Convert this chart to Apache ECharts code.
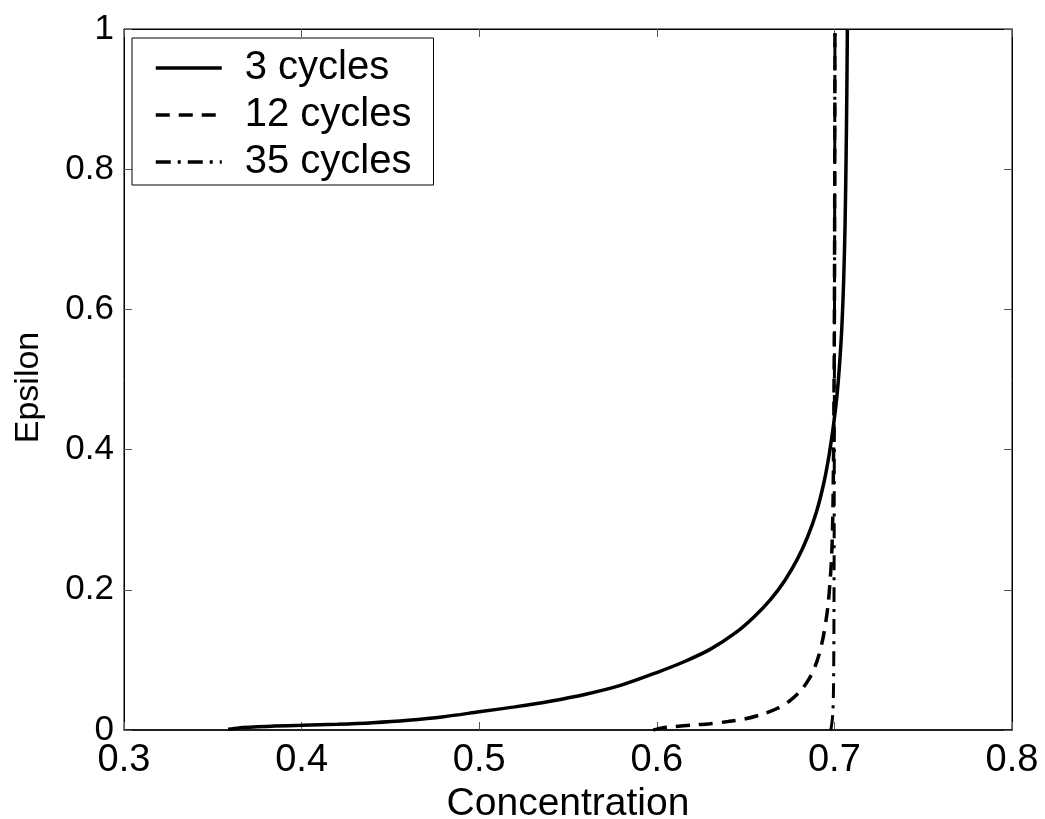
<!DOCTYPE html>
<html>
<head>
<meta charset="utf-8">
<script src="https://cdn.jsdelivr.net/npm/echarts@6/dist/echarts.min.js"></script>
<style>
html,body{margin:0;padding:0;background:#fff;}
#chart{width:1045px;height:819px;}
</style>
</head>
<body>
<div id="chart"></div>
<script>
// ---- data ----
const seriesNames = ['3 cycles', '12 cycles', '35 cycles'];
const xTicks = [0.3, 0.4, 0.5, 0.6, 0.7, 0.8];
const yTicks = [0, 0.2, 0.4, 0.6, 0.8, 1];

const c3x = [0.3586, 0.362, 0.367, 0.375, 0.385, 0.40, 0.42, 0.44, 0.46, 0.48, 0.50, 0.52, 0.54, 0.56, 0.58, 0.60, 0.615, 0.63, 0.645, 0.655, 0.664, 0.672, 0.679, 0.685, 0.690, 0.694, 0.697, 0.6995, 0.7015, 0.703, 0.7042, 0.7052, 0.706, 0.7066, 0.707, 0.7073];
const c3y = [0.001, 0.002, 0.0035, 0.0048, 0.0056, 0.0066, 0.0082, 0.0105, 0.014, 0.019, 0.026, 0.033, 0.041, 0.051, 0.064, 0.082, 0.097, 0.115, 0.140, 0.162, 0.186, 0.213, 0.243, 0.276, 0.312, 0.352, 0.392, 0.435, 0.478, 0.525, 0.575, 0.640, 0.720, 0.820, 0.910, 1.000];

const c12x = [0.598, 0.603, 0.610, 0.620, 0.630, 0.640, 0.650, 0.660, 0.668, 0.675, 0.681, 0.686, 0.689, 0.6913, 0.6935, 0.6952, 0.6965, 0.6975, 0.6985, 0.6992, 0.6997, 0.7000, 0.7002, 0.7003];
const c12y = [0.000, 0.003, 0.005, 0.007, 0.009, 0.012, 0.016, 0.023, 0.031, 0.042, 0.056, 0.074, 0.090, 0.107, 0.130, 0.155, 0.180, 0.210, 0.250, 0.320, 0.450, 0.600, 0.800, 1.000];

const c35x = [0.698, 0.699, 0.6995, 0.6998, 0.700, 0.7003];
const c35y = [0.000, 0.020, 0.060, 0.200, 0.500, 1.000];

function pairs(xs, ys) { return xs.map((x, i) => [x, ys[i]]); }

const FONT = "'Liberation Sans', Arial, Helvetica, sans-serif";
const chart = echarts.init(document.getElementById('chart'), null, {renderer: 'canvas'});

const tickStyle = {show: true, inside: true, length: 8, lineStyle: {color: '#555', width: 1}};

chart.setOption({
  animation: false,
  backgroundColor: '#fff',
  grid: {left: 124, right: 33, top: 29, bottom: 89, show: true, borderColor: '#000', borderWidth: 1, backgroundColor: 'transparent', containLabel: false, outerBoundsMode: 'none'},
  legend: {
    data: seriesNames,
    orient: 'vertical',
    left: 132, top: 38,
    backgroundColor: '#fff',
    borderColor: '#000', borderWidth: 1,
    padding: [10, 22, 3, 22],
    itemWidth: 66, itemHeight: 20, itemGap: 7,
    itemStyle: {opacity: 0},
    lineStyle: {width: 3.5},
    textStyle: {fontFamily: FONT, fontSize: 40, color: '#000', lineHeight: 40, padding: [0, 0, 0, 18]}
  },
  xAxis: [{
    type: 'value', position: 'bottom', min: xTicks[0], max: xTicks[xTicks.length - 1], interval: 0.1,
    name: 'Concentration', nameLocation: 'middle', nameGap: 45,
    nameTextStyle: {fontFamily: FONT, fontSize: 39, color: '#000'},
    axisLine: {show: true, onZero: false, lineStyle: {color: '#000', width: 1.5}},
    axisTick: tickStyle,
    axisLabel: {fontFamily: FONT, fontSize: 38, color: '#000', margin: 12, formatter: v => String(+v.toFixed(1))},
    splitLine: {show: false}
  }, {
    type: 'value', position: 'top', min: xTicks[0], max: xTicks[xTicks.length - 1], interval: 0.1,
    axisLine: {show: true, onZero: false, lineStyle: {color: '#000', width: 1}},
    axisTick: tickStyle, axisLabel: {show: false}, splitLine: {show: false}
  }],
  yAxis: [{
    type: 'value', position: 'left', min: yTicks[0], max: yTicks[yTicks.length - 1], interval: 0.2,
    name: 'Epsilon', nameLocation: 'middle', nameGap: 78, nameRotate: 90,
    nameTextStyle: {fontFamily: FONT, fontSize: 34, color: '#000', padding: [0, 16, 0, 0]},
    axisLine: {show: true, onZero: false, lineStyle: {color: '#000', width: 1}},
    axisTick: tickStyle,
    axisLabel: {fontFamily: FONT, fontSize: 35, color: '#000', margin: 10, formatter: v => String(+v.toFixed(1))},
    splitLine: {show: false}
  }, {
    type: 'value', position: 'right', min: yTicks[0], max: yTicks[yTicks.length - 1], interval: 0.2,
    axisLine: {show: true, onZero: false, lineStyle: {color: '#000', width: 1}},
    axisTick: tickStyle, axisLabel: {show: false}, splitLine: {show: false}
  }],
  series: [{
    name: seriesNames[0], type: 'line', data: pairs(c3x, c3y), xAxisIndex: 0, yAxisIndex: 0,
    showSymbol: false, symbol: 'none', smooth: 0.3,
    lineStyle: {color: '#000', width: 3.5, type: 'solid'}, itemStyle: {color: '#000'}
  }, {
    name: seriesNames[1], type: 'line', data: pairs(c12x, c12y), xAxisIndex: 0, yAxisIndex: 0,
    showSymbol: false, symbol: 'none', smooth: 0.3,
    lineStyle: {color: '#000', width: 3.5, type: [14, 9]}, itemStyle: {color: '#000'}
  }, {
    name: seriesNames[2], type: 'line', data: pairs(c35x, c35y), xAxisIndex: 0, yAxisIndex: 0,
    showSymbol: false, symbol: 'none', smooth: 0.3,
    lineStyle: {color: '#000', width: 3, type: [15, 7, 3, 7]}, itemStyle: {color: '#000'}
  }]
});
</script>
</body>
</html>
